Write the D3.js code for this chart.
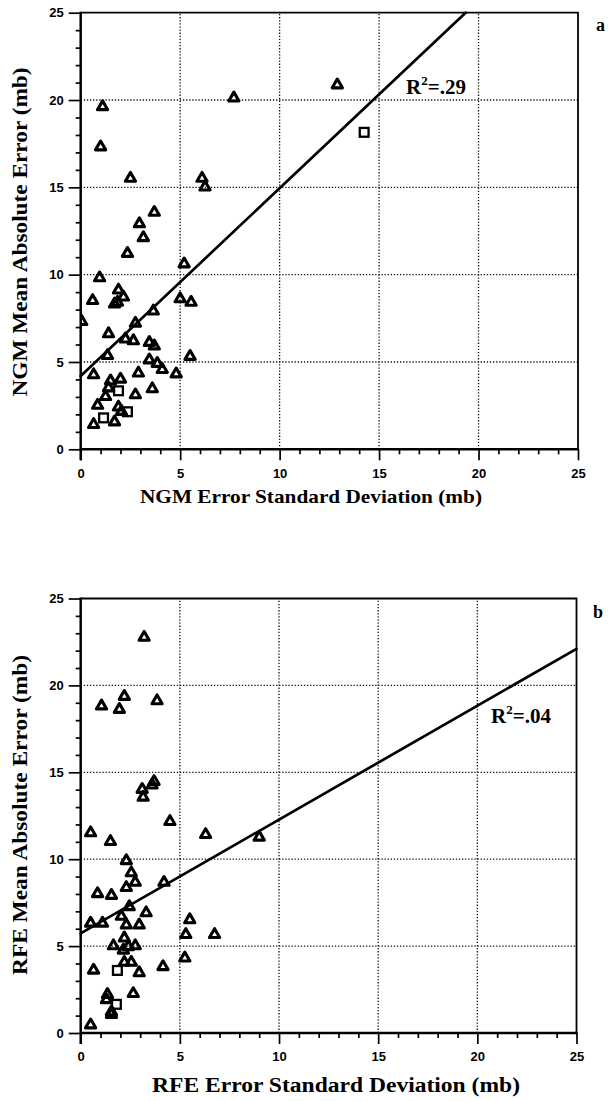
<!DOCTYPE html>
<html>
<head>
<meta charset="utf-8">
<script src="https://cdn.jsdelivr.net/npm/d3@7"></script>
<style>
  html, body { margin: 0; padding: 0; background: #fff; }
  svg { display: block; }
  .tick text { font-family: "Liberation Sans", Arial, sans-serif; font-weight: bold; font-size: 13px; fill: #000; }
  .title { font-family: "Liberation Serif", "Times New Roman", serif; font-weight: bold; fill: #000; }
</style>
</head>
<body>
<svg id="chart" width="608" height="1101"></svg>
<script>
// Panel a: NGM error statistics, one entry per station [std dev, mean abs error]
const ngmTriangles = [
  [1.1,19.7],[1.0,17.4],[2.5,15.6],[6.1,15.6],[6.25,15.1],[7.7,20.2],[12.9,20.95],
  [3.7,13.65],[2.95,13.0],[3.15,12.2],[2.35,11.3],[5.2,10.7],[0.95,9.9],[1.9,9.2],
  [2.15,8.8],[1.7,8.4],[1.85,8.5],[0.6,8.6],[5.0,8.7],[5.55,8.5],[0.05,7.4],[3.65,8.0],
  [2.75,7.3],[1.4,6.7],[2.25,6.4],[2.65,6.3],[3.45,6.2],[3.7,6.0],[5.5,5.4],[1.35,5.45],
  [3.45,5.2],[3.85,5.0],[4.1,4.65],[4.8,4.4],[0.65,4.35],[2.9,4.45],[2.0,4.1],[1.5,4.0],
  [1.4,3.6],[3.6,3.55],[1.25,3.1],[2.75,3.2],[0.85,2.6],[1.9,2.5],[2.05,2.25],
  [0.65,1.5],[1.7,1.65]
];
const ngmSquares = [[14.25,18.15],[1.9,3.35],[2.35,2.15],[1.15,1.8]];
const ngmFit = [4.2, 1.075];          // intercept, slope
const ngmR2 = ".29";

// Panel b: RFE error statistics
const rfeTriangles = [
  [3.2,22.85],[1.05,18.9],[2.2,19.45],[1.95,18.7],[3.85,19.2],[3.1,14.1],[3.15,13.65],
  [3.6,14.35],[3.7,14.55],[4.5,12.25],[0.5,11.6],[6.3,11.5],[9.0,11.35],[1.5,11.1],
  [2.3,10.0],[2.55,9.3],[2.75,8.75],[2.3,8.45],[4.2,8.75],[0.85,8.1],[1.55,8.0],
  [2.45,7.35],[3.3,7.0],[2.05,6.8],[0.5,6.4],[1.1,6.4],[2.3,6.3],[2.95,6.3],[5.5,6.6],
  [5.3,5.75],[6.75,5.75],[2.2,5.55],[1.65,5.1],[2.4,5.05],[2.75,5.1],[2.15,4.85],
  [5.25,4.4],[2.2,4.15],[2.55,4.15],[4.15,3.9],[0.65,3.7],[2.95,3.55],[2.65,2.35],
  [1.35,2.3],[1.3,2.0],[1.55,1.3],[1.55,1.15],[0.5,0.55]
];
const rfeSquares = [[1.85,3.6],[1.8,1.65]];
const rfeFit = [5.73, 0.655];
const rfeR2 = ".04";

const axisDomain = [0, 25];
const majorTicks = [0, 5, 10, 15, 20, 25];
const minorTicks = d3.range(0, 26).filter(v => v % 5 !== 0);
const gridValues = [5, 10, 15, 20];

const svg = d3.select("#chart");

function panel(cfg) {
  const x = d3.scaleLinear().domain(axisDomain).range(cfg.xr);
  const y = d3.scaleLinear().domain(axisDomain).range(cfg.yr);
  const g = svg.append("g");

  const clipId = "clip-" + cfg.id;
  svg.append("clipPath").attr("id", clipId).append("rect")
    .attr("x", x(0)).attr("y", y(25) - 10)
    .attr("width", x(25) - x(0) + 10).attr("height", y(0) - y(25) + 10);

  // dotted grid
  const grid = g.append("g").attr("stroke", "#111").attr("stroke-width", 1.3)
    .attr("stroke-dasharray", "1.3 1.8");
  grid.selectAll(".gx").data(gridValues).join("line")
    .attr("x1", d => x(d)).attr("x2", d => x(d))
    .attr("y1", y(0)).attr("y2", y(25));
  grid.selectAll(".gy").data(gridValues).join("line")
    .attr("y1", d => y(d)).attr("y2", d => y(d))
    .attr("x1", x(0)).attr("x2", x(25));

  // frame: top and right
  g.append("path")
    .attr("d", `M${x(0)},${y(25)}H${x(25)}V${y(0)}`)
    .attr("fill", "none").attr("stroke", "#000").attr("stroke-width", 1.8);

  // axes: major ticks with labels, minor ticks without
  const bottomMajor = d3.axisBottom(x).tickValues(majorTicks).tickSize(11).tickPadding(8).tickFormat(d3.format("d"));
  const bottomMinor = d3.axisBottom(x).tickValues(minorTicks).tickSize(5).tickFormat("");
  const leftMajor = d3.axisLeft(y).tickValues(majorTicks).tickSize(12).tickPadding(5).tickFormat(d3.format("d"));
  const leftMinor = d3.axisLeft(y).tickValues(minorTicks).tickSize(5).tickFormat("");

  [bottomMajor, bottomMinor].forEach(a => {
    const ax = g.append("g").attr("transform", `translate(0,${y(0)})`).call(a);
    ax.select(".domain").remove();
    ax.selectAll(".tick line").attr("stroke", "#000").attr("stroke-width", 1.7);
  });
  [leftMajor, leftMinor].forEach(a => {
    const ax = g.append("g").attr("transform", `translate(${x(0)},0)`).call(a);
    ax.select(".domain").remove();
    ax.selectAll(".tick line").attr("stroke", "#000").attr("stroke-width", 1.7);
  });
  g.append("line").attr("x1", x(0) - 1).attr("x2", x(25) + 1).attr("y1", y(0)).attr("y2", y(0))
    .attr("stroke", "#000").attr("stroke-width", 2.5);
  g.append("line").attr("x1", x(0)).attr("x2", x(0)).attr("y1", y(25) - 1).attr("y2", y(0) + 11)
    .attr("stroke", "#000").attr("stroke-width", 2.5);

  // regression line, clipped at the top of the frame
  const [b0, b1] = cfg.fit;
  const xEnd = Math.min(25, (25 - b0) / b1);
  g.append("line")
    .attr("x1", x(0)).attr("y1", y(b0))
    .attr("x2", x(xEnd)).attr("y2", y(b0 + b1 * xEnd))
    .attr("stroke", "#000").attr("stroke-width", 2.7).attr("stroke-linecap", "round");

  const marks = g.append("g").attr("clip-path", `url(#${clipId})`)
    .attr("fill", "none").attr("stroke", "#000").attr("stroke-linejoin", "round");
  marks.selectAll(".tri").data(cfg.tri).join("path")
    .attr("d", "M0,-4.4L5.1,4.4L-5.1,4.4Z")
    .attr("stroke-width", 3.1)
    .attr("transform", d => `translate(${x(d[0])},${y(d[1])})`);
  marks.selectAll(".sq").data(cfg.sq).join("rect")
    .attr("x", d => x(d[0]) - 4.4).attr("y", d => y(d[1]) - 4.4)
    .attr("width", 8.8).attr("height", 8.8)
    .attr("stroke-width", 2.3).attr("stroke-linejoin", "miter");

  // R² annotation
  const r = g.append("text").attr("class", "title").attr("font-size", 21)
    .attr("x", cfg.r2Pos[0]).attr("y", cfg.r2Pos[1]);
  r.append("tspan").text("R");
  r.append("tspan").attr("font-size", 13).attr("dy", -9).text("2");
  r.append("tspan").attr("dy", 9).text("=" + cfg.r2);

  // panel letter
  g.append("text").attr("class", "title").attr("font-size", 18)
    .attr("x", cfg.letterPos[0]).attr("y", cfg.letterPos[1]).text(cfg.letter);

  // axis titles
  g.append("text").attr("class", "title").attr("font-size", cfg.xTitleSize)
    .attr("text-anchor", "middle")
    .attr("x", cfg.xTitlePos[0]).attr("y", cfg.xTitlePos[1])
    .attr("textLength", cfg.xTitleLen).attr("lengthAdjust", "spacingAndGlyphs")
    .text(cfg.xTitle);
  g.append("text").attr("class", "title").attr("font-size", 22)
    .attr("text-anchor", "middle")
    .attr("transform", `translate(${cfg.yTitlePos[0]},${cfg.yTitlePos[1]}) rotate(-90)`)
    .attr("textLength", cfg.yTitleLen).attr("lengthAdjust", "spacingAndGlyphs")
    .text(cfg.yTitle);
}

panel({
  id: "a", xr: [80.7, 578], yr: [449.3, 12.7],
  tri: ngmTriangles, sq: ngmSquares, fit: ngmFit, r2: ngmR2,
  r2Pos: [406, 94], letter: "a", letterPos: [596, 31],
  xTitle: "NGM Error Standard Deviation (mb)", xTitleSize: 19,
  xTitlePos: [311, 503], xTitleLen: 342,
  yTitle: "NGM Mean Absolute Error (mb)", yTitlePos: [27, 232], yTitleLen: 329
});

panel({
  id: "b", xr: [80.7, 576.5], yr: [1033, 598.5],
  tri: rfeTriangles, sq: rfeSquares, fit: rfeFit, r2: rfeR2,
  r2Pos: [491, 723], letter: "b", letterPos: [593, 618],
  xTitle: "RFE Error Standard Deviation (mb)", xTitleSize: 20,
  xTitlePos: [336, 1092], xTitleLen: 368,
  yTitle: "RFE Mean Absolute Error (mb)", yTitlePos: [27, 815], yTitleLen: 320
});
</script>
</body>
</html>
